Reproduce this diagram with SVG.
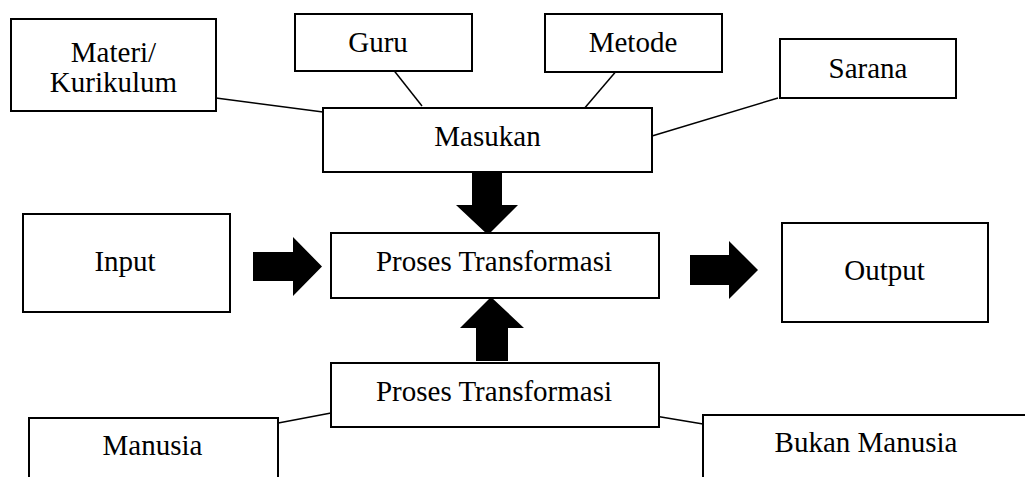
<svg xmlns="http://www.w3.org/2000/svg" width="1025" height="477" viewBox="0 0 1025 477">
<style>
.box{fill:#fff;stroke:#000;stroke-width:2}
.t{font-family:"Liberation Serif","Times New Roman",serif;font-size:29px;fill:#000;text-anchor:middle}
.ln{stroke:#000;stroke-width:1.5;fill:none}
.ar{fill:#000;stroke:none}
</style>
<rect width="1025" height="477" fill="#fff"/>
<g id="connectors">
<line class="ln" x1="216" y1="98" x2="323" y2="112"/>
<line class="ln" x1="392" y1="68" x2="422" y2="106"/>
<line class="ln" x1="618" y1="69" x2="583" y2="110"/>
<line class="ln" x1="778" y1="98" x2="652" y2="136"/>
<line class="ln" x1="273" y1="424" x2="331" y2="413"/>
<line class="ln" x1="655" y1="416" x2="703" y2="424"/>
<polygon class="ar" points="472,172 502,172 502,205 518,205 488,235 456,205 472,205"/>
<polygon class="ar" points="476,361 508,361 508,328 524,328 491,297 460,328 476,328"/>
<polygon class="ar" points="253,252 293,252 293,237 322,266.5 293,296 293,281 253,281"/>
<polygon class="ar" points="690,255 729,255 729,241 758,270 729,299 729,285 690,285"/>
</g>
<g id="materi"><rect class="box" x="11" y="19" width="205" height="92"/><text class="t" x="113.5" y="62">Materi/</text><text class="t" x="113.5" y="92">Kurikulum</text></g>
<g id="guru"><rect class="box" x="295" y="14" width="177" height="57"/><text class="t" x="378" y="52">Guru</text></g>
<g id="metode"><rect class="box" x="545" y="14" width="177" height="58"/><text class="t" x="633" y="52">Metode</text></g>
<g id="sarana"><rect class="box" x="780" y="39" width="176" height="59"/><text class="t" x="868" y="78">Sarana</text></g>
<g id="masukan"><rect class="box" x="323" y="108" width="329" height="64"/><text class="t" x="487.5" y="146">Masukan</text></g>
<g id="input"><rect class="box" x="23" y="214" width="207" height="98"/><text class="t" x="125" y="271">Input</text></g>
<g id="proses1"><rect class="box" x="331" y="233" width="328" height="65"/><text class="t" x="494" y="271">Proses Transformasi</text></g>
<g id="output"><rect class="box" x="782" y="223" width="206" height="99"/><text class="t" x="884.5" y="280">Output</text></g>
<g id="proses2"><rect class="box" x="331" y="363" width="328" height="64"/><text class="t" x="494" y="401">Proses Transformasi</text></g>
<g id="manusia"><rect class="box" x="29" y="418" width="249" height="80"/><text class="t" x="152.5" y="455">Manusia</text></g>
<g id="bukan"><rect class="box" x="703" y="415" width="340" height="80"/><text class="t" x="866" y="452">Bukan Manusia</text></g>
</svg>
